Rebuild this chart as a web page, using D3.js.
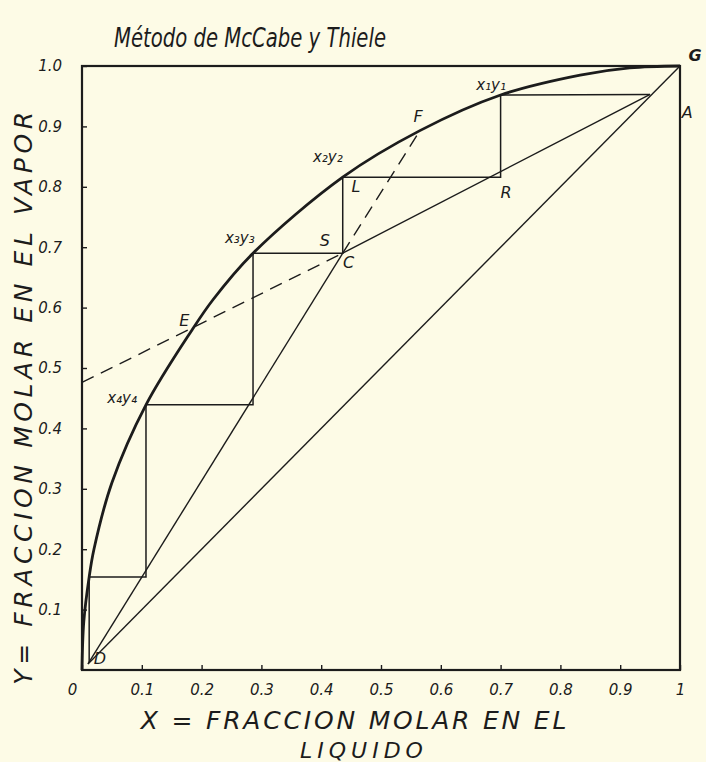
<!DOCTYPE html>
<html>
<head>
<meta charset="utf-8">
<script src="https://cdn.jsdelivr.net/npm/d3@7"></script>
<style>
	body { margin:0; background:#fdfbe6; }
	svg text { font-family:"DejaVu Sans", sans-serif; font-style:italic; fill:#1c1c1c; }
	.axis path { display:none; }
	.axis line { stroke:#1c1c1c; stroke-width:1.4; }
</style>
</head>
<body>
<svg id="chart" width="706" height="762"></svg>
<script>
// values (x = liquid, y = vapour)
var xTicks = [0, 0.1, 0.2, 0.3, 0.4, 0.5, 0.6, 0.7, 0.8, 0.9, 1];
var yTicks = [0.1, 0.2, 0.3, 0.4, 0.5, 0.6, 0.7, 0.8, 0.9, 1.0];

var equilibrium = [[0, 0], [0.003, 0.08], [0.012, 0.154], [0.02, 0.2], [0.05, 0.31], [0.107, 0.439],
	[0.184, 0.563], [0.219, 0.613], [0.286, 0.69], [0.436, 0.816], [0.565, 0.893], [0.70, 0.952],
	[0.833, 0.985], [0.916, 0.997], [1, 1]];
var diagonal = [[0.01, 0.01], [1, 1]];
var strippingLine = [[0.01, 0.01], [0.436, 0.69]];
var strippingDashed = [[0.436, 0.69], [0.565, 0.893]];
var rectifyingLine = [[0.436, 0.69], [0.95, 0.953]];
var rectifyingDashed = [[0, 0.476], [0.436, 0.69]];
var stages = [[0.95, 0.953], [0.70, 0.952], [0.70, 0.816], [0.436, 0.816], [0.436, 0.69], [0.286, 0.69],
	[0.286, 0.439], [0.107, 0.439], [0.107, 0.154], [0.012, 0.154], [0.012, 0.012]];

var pointLabels = [
	{t:'G', x:1.025, y:1.018, bold:true}, {t:'x₁y₁', x:0.684, y:0.969}, {t:'F', x:0.562, y:0.917},
	{t:'A', x:1.012, y:0.924}, {t:'x₂y₂', x:0.411, y:0.849}, {t:'L', x:0.458, y:0.800},
	{t:'R', x:0.709, y:0.790}, {t:'S', x:0.406, y:0.712}, {t:'C', x:0.446, y:0.675},
	{t:'x₃y₃', x:0.264, y:0.715}, {t:'E', x:0.171, y:0.578}, {t:'x₄y₄', x:0.067, y:0.450},
	{t:'D', x:0.030, y:0.020}
];

var svg = d3.select('#chart');
var x = d3.scaleLinear().domain([0, 1]).range([82, 680]);
var y = d3.scaleLinear().domain([0, 1]).range([670, 66]);
var line = d3.line().x(function(d) { return x(d[0]); }).y(function(d) { return y(d[1]); });

svg.append('rect').attr('width', 706).attr('height', 762).attr('fill', '#fdfbe6');

// title
svg.append('text').attr('x', 114).attr('y', 47).attr('font-size', 27)
	.attr('textLength', 272).attr('lengthAdjust', 'spacingAndGlyphs')
	.text('Método de McCabe y Thiele');

// axes, ticks pointing inward
var fmtX = function(d) { return d === 0 ? '0' : d === 1 ? '1' : d3.format('.1f')(d); };
var gx = svg.append('g').attr('class', 'axis').attr('transform', 'translate(0,' + y(0) + ')')
	.call(d3.axisBottom(x).tickValues(xTicks).tickSize(-5).tickPadding(14).tickFormat(fmtX));
gx.selectAll('text').attr('font-size', 15).attr('font-family', null).attr('fill', null)
	.attr('dx', function(d) { return d === 0 ? -10 : 0; });

var gy = svg.append('g').attr('class', 'axis').attr('transform', 'translate(' + x(0) + ',0)')
	.call(d3.axisLeft(y).tickValues(yTicks).tickSize(-5).tickPadding(20).tickFormat(d3.format('.1f')));
gy.selectAll('text').attr('font-size', 15).attr('font-family', null).attr('fill', null);

// frame
svg.append('rect').attr('x', x(0)).attr('y', y(1)).attr('width', x(1) - x(0)).attr('height', y(0) - y(1))
	.attr('fill', 'none').attr('stroke', '#1c1c1c').attr('stroke-width', 2.2);

// straight construction lines
[diagonal, strippingLine, rectifyingLine].forEach(function(pts) {
	svg.append('path').attr('d', line(pts)).attr('fill', 'none')
		.attr('stroke', '#1c1c1c').attr('stroke-width', 1.4);
});
[strippingDashed, rectifyingDashed].forEach(function(pts) {
	svg.append('path').attr('d', line(pts)).attr('fill', 'none')
		.attr('stroke', '#1c1c1c').attr('stroke-width', 1.4).attr('stroke-dasharray', '13,8');
});

// stage steps
svg.append('path').attr('d', line(stages)).attr('fill', 'none')
	.attr('stroke', '#1c1c1c').attr('stroke-width', 1.5);

// equilibrium curve
svg.append('path').attr('d', line.curve(d3.curveCatmullRom.alpha(0.5))(equilibrium)).attr('fill', 'none')
	.attr('stroke', '#1c1c1c').attr('stroke-width', 2.8);

// point labels
svg.selectAll('text.pt').data(pointLabels).enter().append('text')
	.attr('class', 'pt')
	.attr('x', function(d) { return x(d.x); })
	.attr('y', function(d) { return y(d.y); })
	.attr('dy', '0.35em').attr('text-anchor', 'middle')
	.attr('font-size', function(d) { return d.t.length > 1 ? 15 : 16; })
	.attr('font-weight', function(d) { return d.bold ? 'bold' : null; })
	.text(function(d) { return d.t; });

// axis titles (letter-spaced like the hand lettering)
svg.append('text').attr('transform', 'translate(32,396) rotate(-90)').attr('text-anchor', 'middle')
	.style('font-size', '25px').style('letter-spacing', '4.6px')
	.text('Y= FRACCION MOLAR EN EL VAPOR');
svg.append('text').attr('x', 355).attr('y', 729).attr('text-anchor', 'middle')
	.style('font-size', '25px').style('letter-spacing', '2.8px')
	.text('X = FRACCION MOLAR EN EL');
svg.append('text').attr('x', 364).attr('y', 758).attr('text-anchor', 'middle')
	.style('font-size', '22px').style('letter-spacing', '5px')
	.text('LIQUIDO');
</script>
</body>
</html>
